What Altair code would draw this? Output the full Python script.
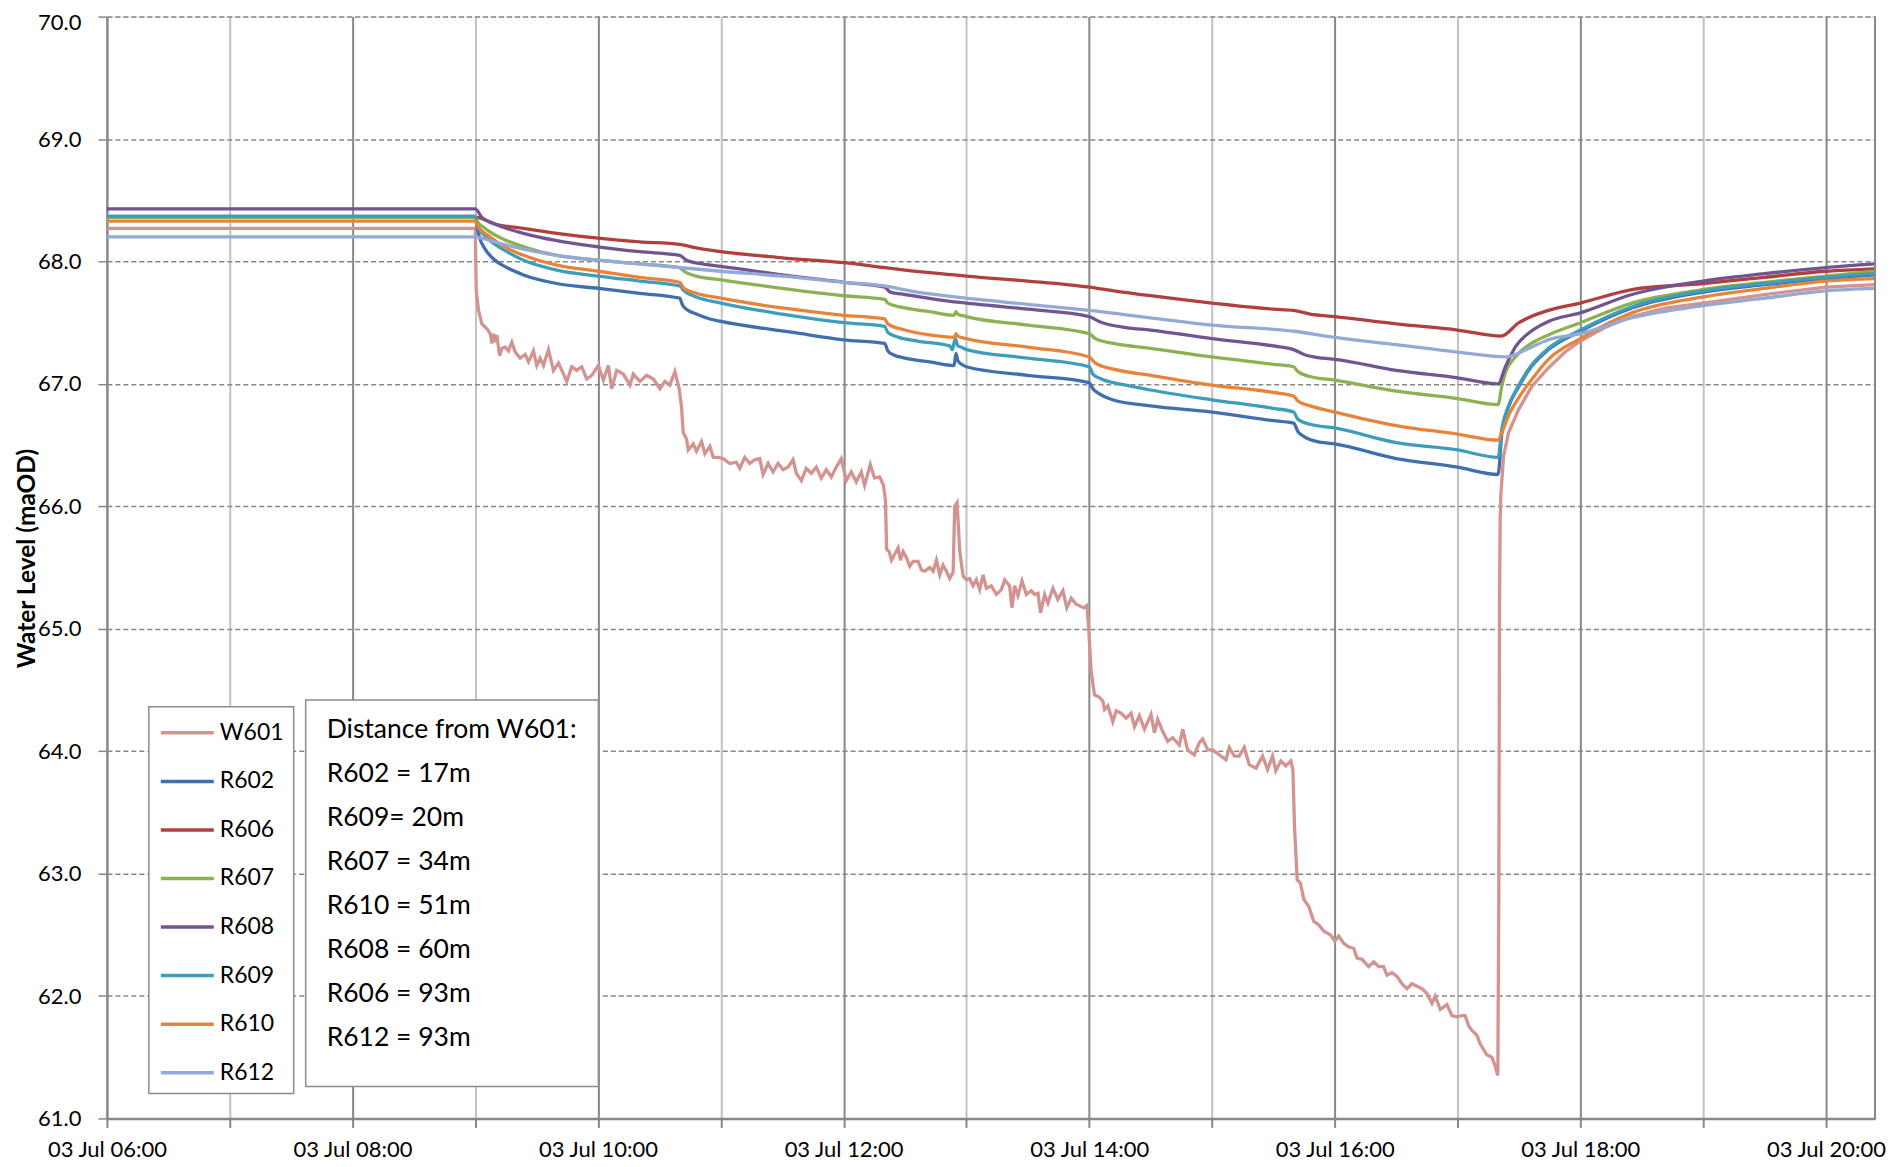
import altair as alt
import pandas as pd

# ---------------- data ----------------
SERIES = ["W601", "R602", "R606", "R607", "R608", "R609", "R610", "R612"]
COLORS = ["#D39391", "#3F6FAE", "#B0403F", "#8DB050", "#715592", "#3E9DBA", "#E8843A", "#93AAD6"]

DISTANCE_LINES = ["Distance from W601:", "R602 = 17m", "R609= 20m", "R607 = 34m",
                  "R610 = 51m", "R608 = 60m", "R606 = 93m", "R612 = 93m"]

X_TICK_HOURS = list(range(6, 21))
Y_TICKS = [61.0, 62.0, 63.0, 64.0, 65.0, 66.0, 67.0, 68.0, 69.0, 70.0]

w601_hours = [6.000, 9.000, 9.008, 9.027, 9.054, 9.095, 9.122, 9.136, 9.149, 9.163, 9.176, 9.198, 9.217,
              9.244, 9.271, 9.298, 9.325, 9.366, 9.407, 9.434, 9.474, 9.501, 9.528, 9.556, 9.596, 9.637,
              9.678, 9.705, 9.745, 9.786, 9.827, 9.867, 9.908, 9.949, 10.003, 10.043, 10.084, 10.111,
              10.152, 10.206, 10.260, 10.287, 10.341, 10.396, 10.450, 10.504, 10.545, 10.585, 10.626,
              10.661, 10.680, 10.694, 10.721, 10.734, 10.775, 10.802, 10.843, 10.870, 10.911, 10.938,
              10.978, 11.019, 11.073, 11.127, 11.154, 11.195, 11.236, 11.276, 11.317, 11.344, 11.385,
              11.425, 11.466, 11.507, 11.547, 11.588, 11.615, 11.656, 11.696, 11.737, 11.778, 11.818,
              11.859, 11.900, 11.940, 11.981, 12.022, 12.062, 12.103, 12.144, 12.171, 12.217, 12.252,
              12.293, 12.325, 12.341, 12.350, 12.371, 12.390, 12.417, 12.444, 12.463, 12.485, 12.512,
              12.539, 12.566, 12.607, 12.634, 12.661, 12.702, 12.729, 12.756, 12.783, 12.810, 12.837,
              12.864, 12.892, 12.905, 12.924, 12.946, 12.973, 13.000, 13.027, 13.054, 13.081, 13.108,
              13.136, 13.163, 13.203, 13.244, 13.285, 13.312, 13.352, 13.371, 13.393, 13.420, 13.453,
              13.488, 13.528, 13.556, 13.583, 13.604, 13.637, 13.664, 13.705, 13.745, 13.786, 13.818,
              13.854, 13.894, 13.957, 13.981, 13.995, 14.016, 14.043, 14.084, 14.111, 14.125, 14.152,
              14.192, 14.220, 14.260, 14.301, 14.341, 14.369, 14.409, 14.450, 14.504, 14.531, 14.558,
              14.599, 14.640, 14.680, 14.734, 14.762, 14.802, 14.856, 14.897, 14.924, 14.965, 15.005,
              15.060, 15.114, 15.141, 15.182, 15.222, 15.263, 15.304, 15.358, 15.412, 15.453, 15.493,
              15.520, 15.561, 15.602, 15.642, 15.659, 15.672, 15.694, 15.721, 15.748, 15.789, 15.829,
              15.870, 15.911, 15.965, 16.000, 16.033, 16.073, 16.114, 16.154, 16.182, 16.222, 16.276,
              16.317, 16.358, 16.398, 16.425, 16.466, 16.507, 16.547, 16.588, 16.629, 16.669, 16.710,
              16.751, 16.791, 16.818, 16.859, 16.913, 16.954, 16.995, 17.035, 17.062, 17.089, 17.116,
              17.157, 17.184, 17.238, 17.279, 17.306, 17.328, 17.336, 17.342, 17.347, 17.353, 17.375,
              17.415, 17.497, 17.605, 17.740, 17.875, 18.000, 18.200, 18.420, 18.700, 19.000, 19.500,
              20.000, 20.400]
w601_level = [68.27, 68.27, 67.76, 67.60, 67.49, 67.45, 67.41, 67.33, 67.41, 67.34, 67.40, 67.23, 67.29,
              67.30, 67.27, 67.34, 67.26, 67.21, 67.24, 67.18, 67.27, 67.15, 67.21, 67.15, 67.28, 67.11,
              67.17, 67.11, 67.02, 67.14, 67.11, 67.14, 67.04, 67.07, 67.15, 67.03, 67.15, 66.96,
              67.11, 67.08, 66.99, 67.08, 67.02, 67.07, 67.04, 66.96, 67.02, 66.99, 67.10,
              66.96, 66.81, 66.60, 66.55, 66.46, 66.51, 66.45, 66.53, 66.43, 66.49, 66.40,
              66.40, 66.39, 66.35, 66.36, 66.31, 66.40, 66.35, 66.38, 66.39, 66.26, 66.35,
              66.28, 66.35, 66.30, 66.32, 66.38, 66.27, 66.21, 66.31, 66.27, 66.32, 66.23,
              66.30, 66.24, 66.32, 66.39, 66.21, 66.28, 66.20, 66.28, 66.17, 66.34, 66.23,
              66.24, 66.17, 66.05, 65.65, 65.63, 65.56, 65.61, 65.66, 65.56, 65.63, 65.58,
              65.51, 65.55, 65.55, 65.48, 65.47, 65.50, 65.47, 65.56, 65.44, 65.52, 65.47,
              65.41, 65.46, 66.00, 66.03, 65.63, 65.43, 65.40, 65.41, 65.35, 65.40, 65.32,
              65.44, 65.33, 65.35, 65.28, 65.32, 65.40, 65.35, 65.17, 65.35, 65.27, 65.39,
              65.28, 65.31, 65.28, 65.29, 65.13, 65.28, 65.21, 65.33, 65.24, 65.31, 65.17,
              65.25, 65.20, 65.17, 65.19, 65.02, 64.65, 64.46, 64.44, 64.41, 64.34, 64.37,
              64.24, 64.33, 64.31, 64.27, 64.31, 64.20, 64.29, 64.18, 64.30, 64.15, 64.26,
              64.16, 64.08, 64.11, 64.05, 64.18, 64.01, 63.97, 64.07, 64.10, 64.01, 64.01,
              63.97, 63.93, 64.03, 63.96, 63.96, 64.03, 63.89, 63.86, 63.96, 63.85, 63.96,
              63.84, 63.92, 63.88, 63.92, 63.85, 63.39, 62.95, 62.92, 62.79, 62.73, 62.61,
              62.58, 62.53, 62.50, 62.45, 62.49, 62.43, 62.40, 62.39, 62.31, 62.30, 62.24,
              62.28, 62.24, 62.24, 62.17, 62.19, 62.16, 62.10, 62.06, 62.10, 62.08, 62.06,
              62.02, 61.94, 62.00, 61.89, 61.93, 61.84, 61.83, 61.84, 61.84, 61.76, 61.72,
              61.68, 61.61, 61.52, 61.50, 61.43, 61.35, 62.80, 65.20, 65.90, 66.10, 66.41,
              66.60, 66.79, 66.98, 67.13, 67.26, 67.35, 67.46, 67.55, 67.62, 67.66, 67.73,
              67.79, 67.81]

r602_hours = [6.0, 9.0, 9.014, 9.040, 9.068, 9.149, 9.257, 9.393, 9.664, 10.003, 10.34, 10.665, 10.69,
              10.72, 10.80, 10.91, 11.0, 11.59, 12.0, 12.335, 12.36, 12.40, 12.5, 12.7, 12.90, 12.915,
              12.93, 12.96, 13.0, 13.5, 14.0, 14.03, 14.08, 14.19, 14.5, 15.0, 15.5, 15.665, 15.70,
              15.75, 15.85, 16.0, 16.5, 17.0, 17.33, 17.36, 17.415, 17.50, 17.60, 17.74, 18.0, 18.42,
              19.0, 19.5, 20.0, 20.4]
r602_level = [68.36, 68.36, 68.28, 68.18, 68.12, 68.02, 67.95, 67.89, 67.82, 67.78, 67.74, 67.70, 67.64,
              67.61, 67.57, 67.53, 67.51, 67.42, 67.36, 67.33, 67.27, 67.24, 67.21, 67.18, 67.15, 67.25,
              67.19, 67.16, 67.14, 67.07, 67.01, 66.96, 66.92, 66.87, 66.82, 66.77, 66.70, 66.68, 66.61,
              66.57, 66.53, 66.51, 66.39, 66.32, 66.26, 66.59, 66.81, 66.98, 67.14, 67.28, 67.43, 67.62,
              67.75, 67.81, 67.86, 67.89]

r606_hours = [6.0, 9.0, 9.054, 9.149, 9.393, 9.664, 10.0, 10.34, 10.665, 10.8, 11.0, 11.5, 12.0, 12.335,
              12.5, 12.9, 13.0, 13.5, 14.0, 14.2, 14.5, 15.0, 15.5, 15.665, 15.8, 16.0, 16.5, 17.0,
              17.355, 17.50, 17.60, 17.74, 18.0, 18.42, 19.0, 19.5, 20.0, 20.4]
r606_level = [68.36, 68.36, 68.35, 68.31, 68.27, 68.23, 68.19, 68.16, 68.14, 68.11, 68.08, 68.03, 67.99,
              67.95, 67.93, 67.89, 67.88, 67.84, 67.79, 67.76, 67.72, 67.66, 67.61, 67.60, 67.57, 67.55,
              67.49, 67.44, 67.39, 67.50, 67.55, 67.60, 67.66, 67.77, 67.82, 67.87, 67.92, 67.94]

r607_hours = [6.0, 9.0, 9.014, 9.068, 9.122, 9.257, 9.393, 9.664, 10.0, 10.34, 10.665, 10.70, 10.8, 11.0,
              11.5, 12.0, 12.335, 12.36, 12.5, 12.7, 12.90, 12.915, 12.93, 13.0, 13.5, 14.0, 14.05,
              14.2, 14.5, 15.0, 15.5, 15.665, 15.70, 15.8, 16.0, 16.5, 17.0, 17.33, 17.36, 17.39,
              17.47, 17.6, 17.74, 18.0, 18.42, 19.0, 19.5, 20.0, 20.4]
r607_level = [68.36, 68.36, 68.33, 68.28, 68.24, 68.17, 68.12, 68.05, 68.01, 67.98, 67.95, 67.92, 67.88,
              67.85, 67.78, 67.72, 67.69, 67.66, 67.62, 67.59, 67.56, 67.59, 67.57, 67.55, 67.48, 67.41,
              67.37, 67.33, 67.29, 67.22, 67.16, 67.14, 67.10, 67.06, 67.03, 66.94, 66.88, 66.83, 66.98,
              67.09, 67.22, 67.33, 67.40, 67.50, 67.66, 67.77, 67.83, 67.88, 67.92]

r608_hours = [6.0, 9.0, 9.054, 9.149, 9.393, 9.664, 10.0, 10.34, 10.665, 10.72, 10.85, 11.0, 11.5, 12.0,
              12.335, 12.38, 12.5, 12.9, 13.0, 13.5, 14.0, 14.08, 14.3, 14.5, 15.0, 15.5, 15.665,
              15.75, 15.9, 16.0, 16.5, 17.0, 17.33, 17.39, 17.47, 17.6, 17.74, 18.0, 18.42, 19.0,
              19.5, 20.0, 20.4]
r608_level = [68.43, 68.43, 68.36, 68.31, 68.23, 68.17, 68.12, 68.08, 68.05, 68.01, 67.98, 67.96, 67.89,
              67.83, 67.79, 67.75, 67.73, 67.67, 67.66, 67.61, 67.55, 67.51, 67.46, 67.44, 67.37, 67.31,
              67.28, 67.24, 67.21, 67.20, 67.11, 67.05, 67.00, 67.14, 67.30, 67.43, 67.51, 67.58, 67.73,
              67.84, 67.90, 67.95, 67.98]

r609_hours = [6.0, 9.0, 9.014, 9.068, 9.122, 9.257, 9.393, 9.664, 10.0, 10.34, 10.665, 10.70, 10.80,
              11.0, 11.5, 12.0, 12.335, 12.36, 12.45, 12.6, 12.865, 12.885, 12.91, 12.93, 12.96, 13.0,
              13.5, 14.0, 14.03, 14.1, 14.3, 14.5, 15.0, 15.5, 15.665, 15.70, 15.8, 16.0, 16.5, 17.0,
              17.33, 17.36, 17.415, 17.5, 17.6, 17.74, 18.0, 18.42, 19.0, 19.5, 20.0, 20.4]
r609_level = [68.37, 68.37, 68.30, 68.22, 68.17, 68.08, 68.01, 67.93, 67.88, 67.84, 67.80, 67.76, 67.71,
              67.66, 67.57, 67.50, 67.47, 67.42, 67.38, 67.35, 67.31, 67.28, 67.37, 67.31, 67.30, 67.28,
              67.21, 67.14, 67.08, 67.04, 66.99, 66.95, 66.87, 66.80, 66.77, 66.71, 66.67, 66.64, 66.52,
              66.46, 66.40, 66.63, 66.82, 66.99, 67.15, 67.29, 67.44, 67.63, 67.76, 67.82, 67.87, 67.90]

r610_hours = [6.0, 9.0, 9.014, 9.122, 9.257, 9.393, 9.664, 10.0, 10.34, 10.665, 10.70, 10.8, 11.0, 11.5,
              12.0, 12.335, 12.36, 12.5, 12.7, 12.90, 12.915, 12.93, 13.0, 13.5, 14.0, 14.05, 14.2,
              14.5, 15.0, 15.5, 15.665, 15.70, 15.8, 16.0, 16.5, 17.0, 17.33, 17.36, 17.415, 17.5,
              17.6, 17.74, 18.0, 18.42, 19.0, 19.5, 20.0, 20.4]
r610_level = [68.33, 68.33, 68.30, 68.20, 68.11, 68.05, 67.97, 67.92, 67.87, 67.83, 67.78, 67.74, 67.70,
              67.62, 67.56, 67.53, 67.49, 67.44, 67.40, 67.38, 67.41, 67.39, 67.37, 67.30, 67.22, 67.17,
              67.12, 67.07, 66.99, 66.93, 66.90, 66.86, 66.82, 66.77, 66.66, 66.59, 66.54, 66.60, 66.74,
              66.89, 67.03, 67.20, 67.37, 67.58, 67.71, 67.78, 67.84, 67.86]

r612_hours = [6.0, 9.0, 9.05, 9.122, 9.393, 9.664, 10.0, 10.34, 10.665, 11.0, 11.5, 12.0, 12.335, 12.54,
              12.905, 13.5, 14.0, 14.5, 15.0, 15.665, 16.0, 16.5, 17.0, 17.40, 17.47, 17.60, 17.74,
              18.0, 18.42, 19.0, 19.5, 20.0, 20.4]
r612_level = [68.20, 68.20, 68.19, 68.17, 68.10, 68.05, 68.01, 67.98, 67.95, 67.92, 67.88, 67.83, 67.80,
              67.76, 67.71, 67.65, 67.60, 67.54, 67.48, 67.43, 67.38, 67.32, 67.26, 67.22, 67.24, 67.30,
              67.36, 67.41, 67.54, 67.64, 67.70, 67.76, 67.78]

# ---------------- tables ----------------
def long_table(pairs):
    rows = []
    for name, hrs, lv in pairs:
        for i, (h, v) in enumerate(zip(hrs, lv)):
            rows.append({"series": name, "hour": h, "level": v, "idx": i})
    return pd.DataFrame(rows)

df_w = long_table([("W601", w601_hours, w601_level)])
df_r = long_table([
    ("R602", r602_hours, r602_level),
    ("R606", r606_hours, r606_level),
    ("R607", r607_hours, r607_level),
    ("R608", r608_hours, r608_level),
    ("R609", r609_hours, r609_level),
    ("R610", r610_hours, r610_level),
    ("R612", r612_hours, r612_level),
])

W, H = 1770, 1103
FONT = "Lato"
GRID_DARK = "#878787"
GRID_LIGHT = "#c2c2c2"
BOX_STROKE = "#8c8c8c"

x_enc = alt.X(
    "hour:Q",
    scale=alt.Scale(domain=[6, 20.4], nice=False, zero=False),
    axis=alt.Axis(
        values=X_TICK_HOURS,
        labelExpr="datum.value % 2 == 0 ? '03 Jul ' + (datum.value < 10 ? '0' : '') + datum.value + ':00' : ''",
        labelOverlap=False, labelFlush=False, labelBound=False,
        labelFont=FONT, labelFontSize=22, labelColor="#000000", labelPadding=12,
        grid=True,
        gridColor={"condition": {"test": "datum.value % 2 == 0", "value": GRID_DARK}, "value": GRID_LIGHT},
        gridWidth=2,
        ticks=True, tickSize=9, tickColor=GRID_DARK, tickWidth=2,
        domain=True, domainColor=GRID_DARK, domainWidth=2.5,
    ),
    title=None,
)
y_enc = alt.Y(
    "level:Q",
    scale=alt.Scale(domain=[61, 70], nice=False, zero=False),
    axis=alt.Axis(
        values=Y_TICKS, format=".1f",
        labelFont=FONT, labelFontSize=22, labelColor="#000000", labelPadding=17,
        labelOffset={"condition": {"test": "datum.value >= 70", "value": 6}, "value": 0},
        grid=True, gridColor=GRID_DARK, gridDash=[5, 3], gridWidth=1.5,
        ticks=True, tickSize=9, tickColor=GRID_DARK, tickWidth=1.5,
        domain=True, domainColor=GRID_DARK, domainWidth=2,
        titleFont=FONT, titleFontSize=24.5, titleFontWeight="bold", titleColor="#000000",
        titleAngle=-90, titleX=-79, titleY=542, titleAlign="center", titleBaseline="middle",
    ),
    title="Water Level (maOD)",
)
color_enc = alt.Color(
    "series:N",
    scale=alt.Scale(domain=SERIES, range=COLORS),
    legend=alt.Legend(
        title=None, orient="none", legendX=52, legendY=688.5, direction="vertical",
        symbolType="stroke", symbolSize=2809, symbolStrokeWidth=3.5,
        labelFont=FONT, labelFontSize=23, labelColor="#000000", labelOffset=4,
        rowPadding=7.6, padding=0,
    ),
)

w_layer = alt.Chart(df_w).mark_line(strokeWidth=3.3, interpolate="linear").encode(
    x=x_enc, y=y_enc, color=color_enc, order="idx:Q")
r_layer = alt.Chart(df_r).mark_line(strokeWidth=3.3, interpolate="monotone").encode(
    x=x_enc, y=y_enc, color=color_enc, order="idx:Q")

one = pd.DataFrame({"a": [0]})
right_border = alt.Chart(one).mark_rule(color=GRID_DARK, strokeWidth=2).encode(
    x=alt.value(W), y=alt.value(0), y2=alt.value(H))

legend_box = alt.Chart(one).mark_rect(fill="#ffffff", stroke=BOX_STROKE, strokeWidth=1.5).encode(
    x=alt.value(42), x2=alt.value(187), y=alt.value(691), y2=alt.value(1078))

text_box = alt.Chart(one).mark_rect(fill="#ffffff", stroke=BOX_STROKE, strokeWidth=1.5).encode(
    x=alt.value(199), x2=alt.value(492), y=alt.value(684), y2=alt.value(1071))

df_text = pd.DataFrame({"text": DISTANCE_LINES,
                        "ypix": [714 + 44 * i for i in range(len(DISTANCE_LINES))]})
box_text = alt.Chart(df_text).mark_text(
    align="left", baseline="middle", font=FONT, fontSize=26.5, color="#000000").encode(
    x=alt.value(220), y=alt.Y("ypix:Q", scale=None), text="text:N")

chart = alt.layer(w_layer, r_layer, right_border, legend_box, text_box, box_text).properties(
    width=W, height=H,
    autosize=alt.AutoSizeParams(type="none"),
    padding={"left": 99, "top": 8, "right": 20, "bottom": 48},
).configure_view(stroke=None).configure(background="#ffffff")

chart.save("out.html", embed_options={"renderer": "svg", "actions": False})
